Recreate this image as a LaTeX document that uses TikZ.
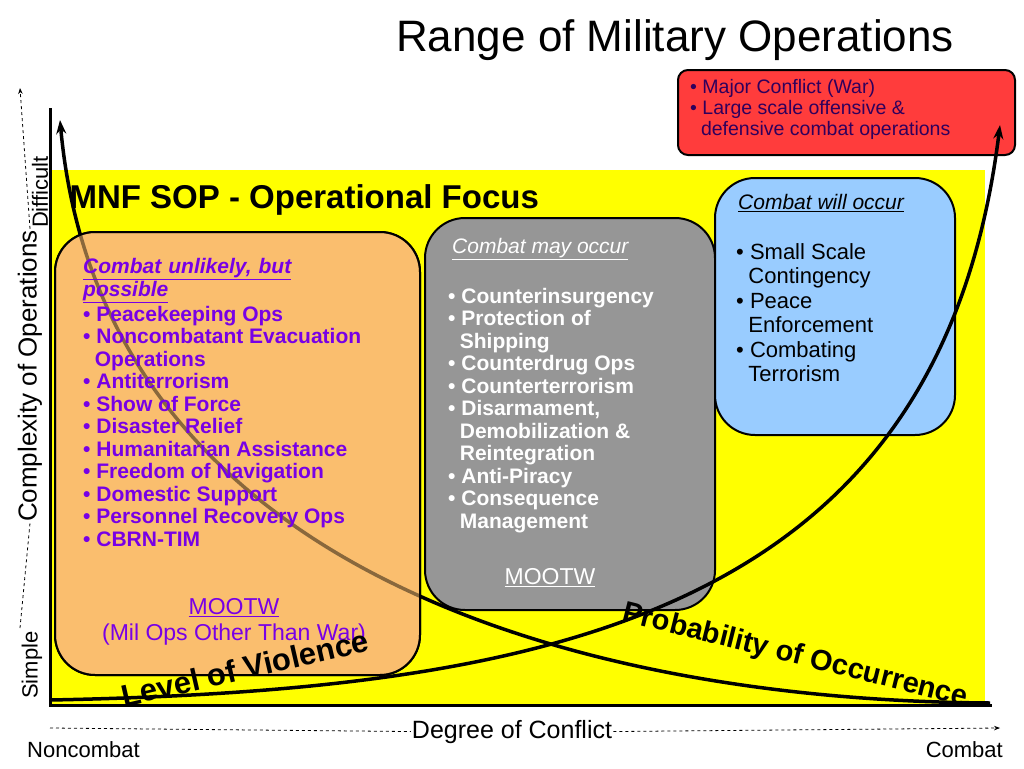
\documentclass[tikz,border=0pt]{standalone}
\usepackage{fontspec}
\setmainfont{Liberation Sans}
\usetikzlibrary{arrows.meta,positioning}
\definecolor{mnfyellow}{RGB}{255,255,0}
\definecolor{mnforange}{RGB}{250,190,110}
\definecolor{mnfgray}{RGB}{150,150,150}
\definecolor{mnfblue}{RGB}{153,204,255}
\definecolor{mnfred}{RGB}{255,60,60}
\definecolor{mnfpurple}{RGB}{120,0,230}
\tikzset{
  opsbox/.style={draw=black, line width=2pt, rounded corners=40pt},
  opslist/.style={align=left, anchor=north west, font=\bfseries\fontsize{21}{22.5}\selectfont, inner sep=0pt},
  curve/.style={line width=3.5pt, -{Stealth[length=14pt,width=10pt]}},
  axislbl/.style={font=\fontsize{22}{24}\selectfont, inner sep=1pt}
}
\begin{document}
\begin{tikzpicture}[x=1pt,y=-1pt]
	\useasboundingbox (0,0) rectangle (1024,768);
	\fill[white] (0,0) rectangle (1024,768);
	
	\node[font=\fontsize{44}{46}\selectfont, anchor=base] (title) at (675,52) {Range of Military Operations};
	
	% yellow field
	\fill[mnfyellow] (50,170) rectangle (985,705);
	\node[font=\bfseries\fontsize{33}{35}\selectfont, anchor=base west] (focus) at (66,208) {MNF SOP - Operational Focus};
	
	% curves behind the boxes
	\coordinate (violS) at (50,700);
	\coordinate (violE) at (1000,125);
	\coordinate (probS) at (60,120);
	\coordinate (probE) at (990,703);
	
	% boxes
	\draw[opsbox, fill=mnforange] (55,232) rectangle (420,675);
	\draw[opsbox, fill=mnfgray] (425,218) rectangle (715,610);
	\draw[opsbox, fill=mnfblue] (715,178) rectangle (955,435);
	\draw[line width=2pt, fill=mnfred, rounded corners=10pt] (678,70) rectangle (1015,155);
	
	\draw[curve] (violS) .. controls (560,690) and (940,610) .. (violE);
	\draw[curve] (probE) .. controls (560,700) and (100,560) .. (probS);
	% orange box over the curves, see-through
	\draw[opsbox, fill=mnforange, fill opacity=.55] (55,232) rectangle (420,675);
	
	% orange texts
	\node[opslist, text=mnfpurple, font=\bfseries\itshape\fontsize{21}{23}\selectfont, text width=300pt] (unlikely) at (83,258) {\underline{Combat unlikely, but}\\\underline{possible}};
	\node[opslist, text=mnfpurple, below=3pt of unlikely.south west, anchor=north west] (mootwlist) {%
		• Peacekeeping Ops\\
		• Noncombatant Evacuation\\
		\ \ Operations\\
		• Antiterrorism\\
		• Show of Force\\
		• Disaster Relief\\
		• Humanitarian Assistance\\
		• Freedom of Navigation\\
		• Domestic Support\\
		• Personnel Recovery Ops\\
		• CBRN-TIM};
	\node[text=mnfpurple, font=\fontsize{23}{26}\selectfont, align=center] (mootwA) at (234,622) {\underline{MOOTW}\\(Mil Ops Other Than War)};
	
	% gray texts
	\node[opslist, text=white, font=\itshape\fontsize{21}{23}\selectfont] (mayoccur) at (452,238) {\underline{Combat may occur}};
	\node[opslist, text=white] (graylist) at (448,288) {%
		• Counterinsurgency\\
		• Protection of\\
		\ \ Shipping\\
		• Counterdrug Ops\\
		• Counterterrorism\\
		• Disarmament,\\
		\ \ Demobilization \&\\
		\ \ Reintegration\\
		• Anti-Piracy\\
		• Consequence\\
		\ \ Management};
	\node[text=white, font=\fontsize{23}{25}\selectfont] (mootwB) at (550,578) {\underline{MOOTW}};
	
	% blue texts
	\node[opslist, font=\itshape\fontsize{21}{23}\selectfont] (willoccur) at (738,194) {\underline{Combat will occur}};
	\node[opslist, font=\fontsize{22}{24.5}\selectfont] (bluelist) at (736,243) {%
		• Small Scale\\
		\ \ Contingency\\
		• Peace\\
		\ \ Enforcement\\
		• Combating\\
		\ \ Terrorism};
	
	% red texts
	\node[opslist, text=mnfpurple!40!black, font=\fontsize{19.5}{21}\selectfont] (war) at (690,79) {%
		• Major Conflict (War)\\
		• Large scale offensive \&\\
		\ \ defensive combat operations};
	
	% curve labels
	\node[font=\bfseries\fontsize{31}{33}\selectfont, rotate=13] (violence) at (245,668) {Level of Violence};
	\node[font=\bfseries\fontsize{29}{31}\selectfont, rotate=-14] (probability) at (795,656) {Probability of Occurrence};
	
	% axes
	\coordinate (origin) at (50,705);
	\coordinate (ytop) at (50,108);
	\coordinate (xend) at (992,705);
	\draw[line width=3pt] (ytop) -- (origin) -- (xend);
	
	\node[axislbl, anchor=base, font=\fontsize{25}{27}\selectfont] (degree) at (512,738) {Degree of Conflict};
	\node[axislbl, anchor=base west] (noncombat) at (26,757) {Noncombat};
	\node[axislbl, anchor=base east] (combat) at (1004,757) {Combat};
	\coordinate (xdl) at (50,728);
	\coordinate (xdr) at (1000,728);
	\draw[dashed, line width=.8pt] (xdl) -- (degree.west);
	\draw[dashed, line width=.8pt, -{Stealth[length=6pt]}] (degree.east) -- (xdr);
	
	\node[axislbl, rotate=90, font=\fontsize{26}{28}\selectfont] (complexity) at (30,376) {Complexity of Operations};
	\node[axislbl, rotate=90, anchor=west] (simple) at (32,700) {Simple};
	\node[axislbl, rotate=90, anchor=east] (difficult) at (40,155) {Difficult};
	\coordinate (ydb) at (20,628);
	\coordinate (ydt) at (20,88);
	\draw[dashed, line width=.8pt] (ydb) -- (complexity.west);
	\draw[dashed, line width=.8pt, -{Stealth[length=6pt]}] (complexity.east) -- (ydt);
\end{tikzpicture}
\end{document}
